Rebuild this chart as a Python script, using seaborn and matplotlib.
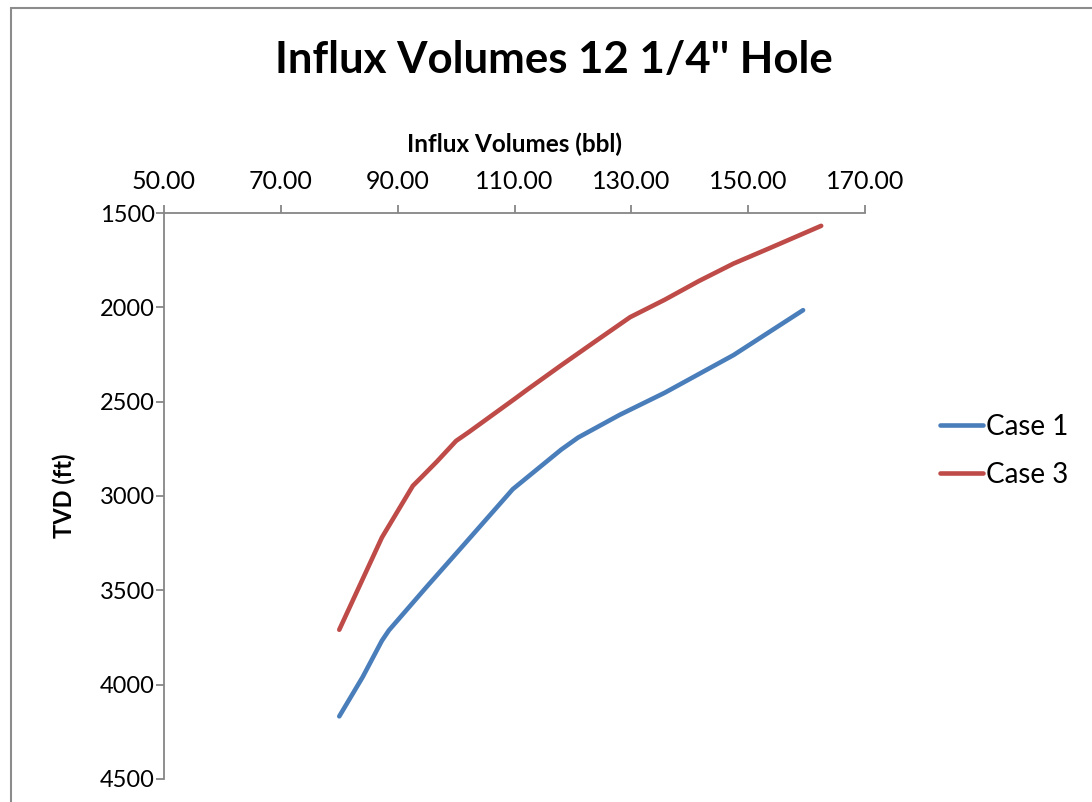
import matplotlib
matplotlib.use("Agg")
import matplotlib.pyplot as plt
from matplotlib.patches import Rectangle
from matplotlib.ticker import FormatStrFormatter
import seaborn as sns
import pandas as pd

# Influx volume (bbl) against true vertical depth (ft)
case1_volume = [80.0, 84.0, 87.3, 88.5, 95.0, 101.4, 109.7, 118.0, 120.9, 128.0, 135.7, 147.5, 159.4]
case1_tvd = [4168, 3960, 3767, 3712, 3480, 3256, 2964, 2754, 2690, 2570, 2453, 2253, 2015]

case3_volume = [80.0, 87.3, 92.6, 93.8, 96.7, 100.0, 102.1, 110.0, 112.1, 118.0, 123.9,
                129.8, 135.7, 141.6, 147.5, 153.4, 162.5]
case3_tvd = [3709, 3220, 2946, 2909, 2818, 2708, 2663, 2486, 2438, 2307, 2179,
             2052, 1960, 1860, 1768, 1690, 1568]

series_names = ["Case 1", "Case 3"]
x_ticks = [50, 70, 90, 110, 130, 150, 170]
y_ticks = [1500, 2000, 2500, 3000, 3500, 4000, 4500]

df = pd.concat([
    pd.DataFrame({"Volume": case1_volume, "TVD": case1_tvd, "Case": series_names[0]}),
    pd.DataFrame({"Volume": case3_volume, "TVD": case3_tvd, "Case": series_names[1]}),
], ignore_index=True)

sns.set_theme(style="white")
plt.rcParams["font.family"] = ["Lato", "DejaVu Sans"]
plt.rcParams["text.color"] = "black"
plt.rcParams["axes.labelcolor"] = "black"
plt.rcParams["xtick.color"] = "black"
plt.rcParams["ytick.color"] = "black"

fig = plt.figure(figsize=(10.92, 8.02), dpi=100)
ax = fig.add_axes([164 / 1092, 23 / 802, 701 / 1092, 566 / 802])

# chart-area frame
fig.patches.append(Rectangle((11 / 1092, -0.1), 1.2, (802 - 8) / 802 + 0.1,
                             transform=fig.transFigure, fill=False,
                             edgecolor="#8c8c8c", linewidth=1.5))

palette = {"Case 1": "#4A7EBB", "Case 3": "#BE4B48"}
sns.lineplot(data=df, x="Volume", y="TVD", hue="Case", palette=palette,
             linewidth=3.3, sort=False, ax=ax, legend=True,
             solid_capstyle="round", solid_joinstyle="round")

ax.set_xlim(50, 170)
ax.set_ylim(4500, 1500)
ax.set_xticks(x_ticks)
ax.set_yticks(y_ticks)
ax.xaxis.set_major_formatter(FormatStrFormatter("%.2f"))
ax.xaxis.tick_top()
ax.xaxis.set_label_position("top")

for side in ["right", "bottom"]:
    ax.spines[side].set_visible(False)
for side in ["top", "left"]:
    ax.spines[side].set_color("#868686")
    ax.spines[side].set_linewidth(1.3)

ax.tick_params(axis="x", which="major", direction="out", length=6, width=1.3,
               color="#868686", labelcolor="black", labelsize=18, pad=8.5,
               top=True, bottom=False)
ax.tick_params(axis="y", which="major", direction="out", length=6, width=1.3,
               color="#868686", labelcolor="black", labelsize=17, pad=0.5, left=True)

ax.set_xlabel("Influx Volumes (bbl)", fontsize=17.5, fontweight="bold", labelpad=13)
ax.set_ylabel("TVD (ft)", fontsize=17, fontweight="bold", labelpad=17)

fig.text(554 / 1092, 1 - 60 / 802, "Influx Volumes 12 1/4'' Hole",
         ha="center", va="center", fontsize=31.5, fontweight="bold")

handles, labels = ax.get_legend_handles_labels()
ax.legend(handles, labels, frameon=False, fontsize=20, loc="center left",
          bbox_to_anchor=(940 / 1092, 1 - 451 / 802), bbox_transform=fig.transFigure,
          handlelength=1.55, handletextpad=0.12, labelspacing=0.8, borderaxespad=0,
          borderpad=0)

fig.savefig("out.png", dpi=100)
